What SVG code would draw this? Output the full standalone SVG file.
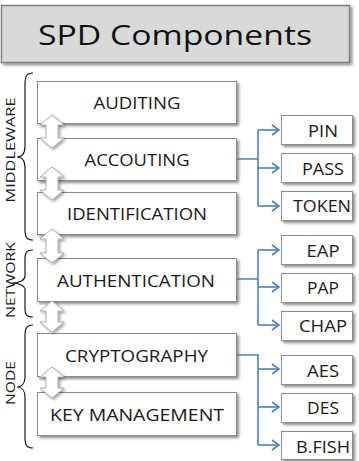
<svg xmlns="http://www.w3.org/2000/svg" width="359" height="461" viewBox="0 0 359 461">
<style>
.box{fill:#fff;stroke:#8c8c8c;stroke-width:1}
.t{font-family:"Open Sans","Liberation Sans",sans-serif;font-size:16px;fill:#1a1a1a;text-anchor:middle}
.side{font-family:"Open Sans","Liberation Sans",sans-serif;font-size:13px;fill:#1a1a1a;text-anchor:middle}
.brace{fill:none;stroke:#1a1a1a;stroke-width:1.2}
.con{fill:none;stroke:#4f81bd;stroke-width:1.6}
.dbl{fill:#fff;stroke:#b0b0b0;stroke-width:1}
</style>
<defs>
<filter id="sh" x="-10%" y="-10%" width="130%" height="140%">
<feDropShadow dx="2" dy="2" stdDeviation="1.5" flood-color="#000" flood-opacity="0.45"/>
</filter>
<filter id="sh2" x="-40%" y="-30%" width="180%" height="160%">
<feDropShadow dx="1.5" dy="1.5" stdDeviation="1.5" flood-color="#000" flood-opacity="0.4"/>
</filter>
<marker id="ah" markerWidth="10" markerHeight="12" refX="8" refY="6" orient="auto" markerUnits="userSpaceOnUse">
<path d="M1,1 L8,6 L1,11" fill="none" stroke="#4f81bd" stroke-width="1.6"/>
</marker>
</defs>

<g id="title">
<rect x="1.5" y="5.5" width="348" height="57" fill="#d9d9d9" stroke="#7f7f7f" stroke-width="1.5" filter="url(#sh)"/>
<text x="175" y="45" font-family="'Open Sans','Liberation Sans',sans-serif" font-size="28" fill="#111" text-anchor="middle" textLength="274" lengthAdjust="spacingAndGlyphs">SPD Components</text>
</g>

<g id="labels">
<text class="side" transform="translate(15,150) rotate(-90)" textLength="105" lengthAdjust="spacingAndGlyphs">MIDDLEWARE</text>
<text class="side" transform="translate(15,280) rotate(-90)" textLength="76" lengthAdjust="spacingAndGlyphs">NETWORK</text>
<text class="side" transform="translate(15,383) rotate(-90)" textLength="44" lengthAdjust="spacingAndGlyphs">NODE</text>
</g>

<g id="braces">
<path class="brace" d="M33,73 C26,73 25,77 25,85 L25,146 C25,153 22,157 17,157 C22,157 25,161 25,168 L25,229 C25,236 26,240 33,240"/>
<path class="brace" d="M33,250 C26,250 25,253 25,259 L25,276 C25,280 20,283 12,283 C20,283 25,286 25,290 L25,309 C25,314 26,317 33,317"/>
<path class="brace" d="M33,325 C26,325 25,329 25,336 L25,377 C25,383 22,387 17,387 C22,387 25,391 25,397 L25,437 C25,444 26,448 33,448"/>
</g>

<g id="n-auditing"><rect class="box" x="37.5" y="81.5" width="199" height="42" filter="url(#sh)"/><text class="t" x="137" y="109" textLength="87" lengthAdjust="spacingAndGlyphs">AUDITING</text></g>
<g id="n-accouting"><rect class="box" x="37.5" y="138.5" width="199" height="42" filter="url(#sh)"/><text class="t" x="137" y="166" textLength="105" lengthAdjust="spacingAndGlyphs">ACCOUTING</text></g>
<g id="n-identification"><rect class="box" x="37.5" y="192.5" width="199" height="42" filter="url(#sh)"/><text class="t" x="137" y="220" textLength="140" lengthAdjust="spacingAndGlyphs">IDENTIFICATION</text></g>
<g id="n-authentication"><rect class="box" x="37.5" y="258.5" width="199" height="43" filter="url(#sh)"/><text class="t" x="136" y="287" textLength="158" lengthAdjust="spacingAndGlyphs">AUTHENTICATION</text></g>
<g id="n-cryptography"><rect class="box" x="37.5" y="333.5" width="199" height="43" filter="url(#sh)"/><text class="t" x="136.5" y="362" textLength="143" lengthAdjust="spacingAndGlyphs">CRYPTOGRAPHY</text></g>
<g id="n-keymgmt"><rect class="box" x="37.5" y="392.5" width="199" height="43" filter="url(#sh)"/><text class="t" x="137" y="421" textLength="174" lengthAdjust="spacingAndGlyphs">KEY MANAGEMENT</text></g>

<g id="n-pin"><rect class="box" x="281.5" y="115.5" width="71" height="29" filter="url(#sh)"/><text class="t" x="323" y="137" textLength="30" lengthAdjust="spacingAndGlyphs">PIN</text></g>
<g id="n-pass"><rect class="box" x="281.5" y="153.5" width="71" height="29" filter="url(#sh)"/><text class="t" x="323" y="175" textLength="42" lengthAdjust="spacingAndGlyphs">PASS</text></g>
<g id="n-token"><rect class="box" x="281.5" y="191.5" width="71" height="29" filter="url(#sh)"/><text class="t" x="322" y="212" textLength="58" lengthAdjust="spacingAndGlyphs">TOKEN</text></g>
<g id="n-eap"><rect class="box" x="281.5" y="235.5" width="71" height="29" filter="url(#sh)"/><text class="t" x="323" y="257" textLength="33" lengthAdjust="spacingAndGlyphs">EAP</text></g>
<g id="n-pap"><rect class="box" x="281.5" y="273.5" width="71" height="29" filter="url(#sh)"/><text class="t" x="323" y="294" textLength="32" lengthAdjust="spacingAndGlyphs">PAP</text></g>
<g id="n-chap"><rect class="box" x="281.5" y="311.5" width="71" height="29" filter="url(#sh)"/><text class="t" x="323" y="332" textLength="48" lengthAdjust="spacingAndGlyphs">CHAP</text></g>
<g id="n-aes"><rect class="box" x="281.5" y="355.5" width="71" height="29" filter="url(#sh)"/><text class="t" x="323" y="377" textLength="32" lengthAdjust="spacingAndGlyphs">AES</text></g>
<g id="n-des"><rect class="box" x="281.5" y="393.5" width="71" height="29" filter="url(#sh)"/><text class="t" x="323" y="414" textLength="32" lengthAdjust="spacingAndGlyphs">DES</text></g>
<g id="n-bfish"><rect class="box" x="281.5" y="431.5" width="71" height="28" filter="url(#sh)"/><text class="t" x="323" y="453" textLength="54" lengthAdjust="spacingAndGlyphs">B.FISH</text></g>

<g id="connectors">
<g filter="url(#sh2)">
<path class="dbl" d="M52,115 L64,125 L58,125 L58,138 L64,138 L52,148 L40,138 L46,138 L46,125 L40,125 Z"/>
<path class="dbl" d="M52,167 L64,177 L58,177 L58,190 L64,190 L52,200 L40,190 L46,190 L46,177 L40,177 Z"/>
<path class="dbl" d="M52,229 L64,239 L58,239 L58,253 L64,253 L52,263 L40,253 L46,253 L46,239 L40,239 Z"/>
<path class="dbl" d="M52,301 L64,311 L58,311 L58,322 L64,322 L52,332 L40,322 L46,322 L46,311 L40,311 Z"/>
<path class="dbl" d="M52,367 L64,377 L58,377 L58,388 L64,388 L52,398 L40,388 L46,388 L46,377 L40,377 Z"/>
</g>
<path class="con" d="M237,159 H258 M258,130 V206"/>
<path class="con" d="M258,130 H279" marker-end="url(#ah)"/>
<path class="con" d="M258,168 H279" marker-end="url(#ah)"/>
<path class="con" d="M258,206 H279" marker-end="url(#ah)"/>
<path class="con" d="M237,279 H258 M258,250 V325"/>
<path class="con" d="M258,250 H279" marker-end="url(#ah)"/>
<path class="con" d="M258,287 H279" marker-end="url(#ah)"/>
<path class="con" d="M258,325 H279" marker-end="url(#ah)"/>
<path class="con" d="M237,355 H258 V445"/>
<path class="con" d="M258,369 H279" marker-end="url(#ah)"/>
<path class="con" d="M258,407 H279" marker-end="url(#ah)"/>
<path class="con" d="M258,445 H279" marker-end="url(#ah)"/>
</g>
</svg>
